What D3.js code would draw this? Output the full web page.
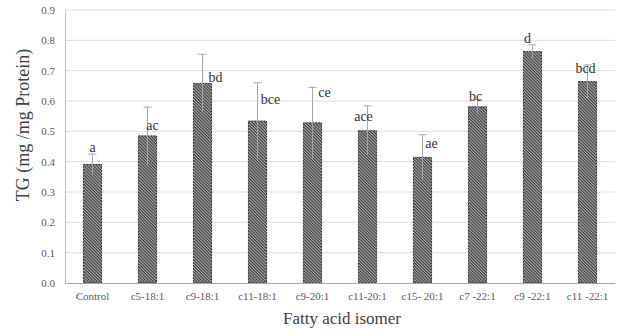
<!DOCTYPE html>
<html>
<head>
<meta charset="utf-8">
<script src="https://cdn.jsdelivr.net/npm/d3@7"></script>
<style>
  body { margin: 0; background: #fff; }
</style>
</head>
<body>
<script>
// data
var categories = ["Control", "c5-18:1", "c9-18:1", "c11-18:1", "c9-20:1", "c11-20:1", "c15- 20:1", "c7 -22:1", "c9 -22:1", "c11 -22:1"]
var means = [0.391, 0.485, 0.658, 0.534, 0.528, 0.502, 0.414, 0.581, 0.763, 0.664]
var errTop = [0.425, 0.580, 0.754, 0.660, 0.645, 0.584, 0.489, 0.605, 0.785, 0.719]
var letters = ["a", "ac", "bd", "bce", "ce", "ace", "ae", "bc", "d", "bcd"]
var yTicks = [0, 0.1, 0.2, 0.3, 0.4, 0.5, 0.6, 0.7, 0.8, 0.9]

// where each significance letter sits (layout, not data)
var letterY = [0.432, 0.504, 0.663, 0.590, 0.613, 0.534, 0.445, 0.600, 0.791, 0.692]
var letterDx = [0, 5, 13, 13, 12, -4, 9, -2, -5, -2]

var serif = "'Liberation Serif', 'Times New Roman', 'DejaVu Serif', serif"
var W = 617, H = 332
var margin = {top: 10, right: 2, bottom: 49, left: 65}
var svg = d3.select("body").append("svg")
    .attr("width", W)
    .attr("height", H)
    .style("font-family", serif)

var defs = svg.append("defs")
var pat = defs.append("pattern")
    .attr("id", "hatch")
    .attr("patternUnits", "userSpaceOnUse")
    .attr("width", 2.2)
    .attr("height", 2.2)
    .attr("patternTransform", "rotate(45)")
pat.append("rect").attr("width", 2.2).attr("height", 2.2).attr("fill", "#a8a8a8")
pat.append("rect").attr("width", 2.2).attr("height", 1.1).attr("fill", "#3c3c3c")

var x = d3.scaleBand()
    .domain(categories)
    .range([margin.left, W - margin.right])
    .paddingInner(0.67)
    .paddingOuter(0.335)

var y = d3.scaleLinear()
    .domain([0, 0.9])
    .range([H - margin.bottom, margin.top])

// gridlines
svg.append("g")
  .selectAll("line")
    .data(yTicks.slice(1))
    .enter()
  .append("line")
    .attr("x1", margin.left)
    .attr("x2", W - margin.right)
    .attr("y1", function (d) { return y(d) })
    .attr("y2", function (d) { return y(d) })
    .attr("stroke", "#dcdcdc")
    .attr("stroke-width", 1)

// y axis
var yAxis = svg.append("g")
    .attr("transform", "translate(" + margin.left + ",0)")
    .call(d3.axisLeft(y).tickValues(yTicks).tickFormat(d3.format(".1f")).tickSize(0).tickPadding(10))
yAxis.attr("font-family", serif)
yAxis.select(".domain").attr("stroke", "#bfbfbf")
yAxis.selectAll("text").attr("font-size", 11).attr("fill", "#595959")

// bars
svg.append("g")
  .selectAll("rect")
    .data(categories)
    .enter()
  .append("rect")
    .attr("x", function (d) { return x(d) })
    .attr("width", x.bandwidth())
    .attr("y", function (d, i) { return y(means[i]) })
    .attr("height", function (d, i) { return y(0) - y(means[i]) })
    .attr("fill", "url(#hatch)")
    .attr("stroke", "#333")
    .attr("stroke-width", 1)
    .attr("stroke-dasharray", "2,1")

// error bars
var eb = svg.append("g")
  .selectAll("g")
    .data(categories)
    .enter()
  .append("g")
eb.append("line")
    .attr("x1", function (d) { return x(d) + x.bandwidth() / 2 })
    .attr("x2", function (d) { return x(d) + x.bandwidth() / 2 })
    .attr("y1", function (d, i) { return y(means[i] - (errTop[i] - means[i])) })
    .attr("y2", function (d, i) { return y(errTop[i]) })
    .attr("stroke", "#a6a6a6")
    .attr("stroke-width", 1)
eb.append("line")
    .attr("x1", function (d) { return x(d) + x.bandwidth() / 2 - 4 })
    .attr("x2", function (d) { return x(d) + x.bandwidth() / 2 + 4 })
    .attr("y1", function (d, i) { return y(errTop[i]) })
    .attr("y2", function (d, i) { return y(errTop[i]) })
    .attr("stroke", "#a6a6a6")
    .attr("stroke-width", 1)

// x axis
var xAxis = svg.append("g")
    .attr("transform", "translate(0," + y(0) + ")")
    .call(d3.axisBottom(x).tickSize(0).tickPadding(9))
xAxis.attr("font-family", serif)
xAxis.select(".domain").attr("stroke", "#a6a6a6")
xAxis.selectAll("text").attr("font-size", 11).attr("fill", "#595959")

// significance letters
svg.append("g")
  .selectAll("text")
    .data(letters)
    .enter()
  .append("text")
    .attr("x", function (d, i) { return x(categories[i]) + x.bandwidth() / 2 + letterDx[i] })
    .attr("y", function (d, i) { return y(letterY[i]) })
    .attr("text-anchor", "middle")
    .attr("font-size", 14)
    .attr("fill", "#333")
    .text(function (d) { return d })

// axis titles
svg.append("text")
    .attr("x", 342)
    .attr("y", 324)
    .attr("text-anchor", "middle")
    .attr("font-size", 17)
    .attr("fill", "#404040")
    .text("Fatty acid isomer")

svg.append("text")
    .attr("transform", "translate(29,125) rotate(-90)")
    .attr("text-anchor", "middle")
    .attr("font-size", 18)
    .attr("fill", "#404040")
    .text("TG (mg /mg Protein)")
</script>
</body>
</html>
